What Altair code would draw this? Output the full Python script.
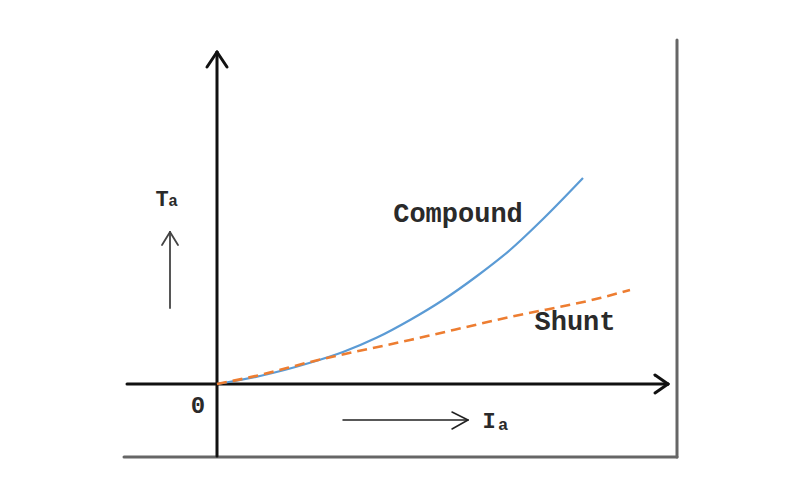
import altair as alt
import pandas as pd

# ---- data (units: Ia along x, Ta along y; origin at the axes crossing) ----
compound_x = [0, 1.075, 2.325, 3.15, 4.0, 4.825, 5.65, 6.5, 7.325, 8.15, 9.15]
compound_y = [0, 0.2, 0.53, 0.8, 1.16, 1.6, 2.1, 2.7, 3.35, 4.125, 5.15]

shunt_x = [0, 1.075, 2.325, 4.825, 7.325, 9.575, 10.325]
shunt_y = [0, 0.225, 0.55, 1.1, 1.675, 2.15, 2.35]

# axis lines and arrow heads (x, y, x2, y2)
axis_segments = [
    (0, -1.8, 0, 8.3),
    (-2.25, 0, 11.275, 0),
    (0, 8.3, -0.25, 7.925),
    (0, 8.3, 0.25, 7.925),
    (11.275, 0, 10.95, 0.225),
    (11.275, 0, 10.95, -0.225),
]
frame_segments = [
    (11.5, 8.6, 11.5, -1.825),
    (-2.325, -1.825, 11.5, -1.825),
]
ta_arrow = [
    (-1.175, 1.9, -1.175, 3.8),
    (-1.175, 3.8, -1.375, 3.475),
    (-1.175, 3.8, -0.975, 3.475),
]
ia_arrow = [
    (3.15, -0.9, 6.275, -0.9),
    (6.275, -0.9, 5.875, -0.7),
    (6.275, -0.9, 5.875, -1.125),
]

# labels: (text, x, y, size)
labels = [
    ("Compound", 6.025, 4.05, 27),
    ("Shunt", 8.95, 1.35, 27),
    ("0", -0.475, -0.725, 24),
    ("T", -1.375, 4.45, 22),
    ("a", -1.1, 4.45, 16),
    ("I", 6.8, -1.1, 22),
    ("a", 7.15, -1.15, 17),
]

XDOM = [-5.225, 14.375]
YDOM = [-2.7, 9.4]
FONT = "Liberation Mono"

xs = alt.Scale(domain=XDOM, nice=False, zero=False)
ys = alt.Scale(domain=YDOM, nice=False, zero=False)


def seg_df(segs):
    return pd.DataFrame(segs, columns=["x", "y", "x2", "y2"])


def seg_layer(segs, color, width):
    return alt.Chart(seg_df(segs)).mark_rule(color=color, strokeWidth=width, strokeCap="round").encode(
        x=alt.X("x:Q", scale=xs, axis=None),
        y=alt.Y("y:Q", scale=ys, axis=None),
        x2="x2:Q",
        y2="y2:Q",
    )


frame = seg_layer(frame_segments, "#666666", 3)
axes = seg_layer(axis_segments, "#111111", 3)
ta = seg_layer(ta_arrow, "#444444", 1.8)
ia = seg_layer(ia_arrow, "#222222", 1.5)

comp_df = pd.DataFrame({"x": compound_x, "y": compound_y})
shunt_df = pd.DataFrame({"x": shunt_x, "y": shunt_y})

compound = alt.Chart(comp_df).mark_line(color="#5b9bd5", strokeWidth=2.2, interpolate="monotone").encode(
    x=alt.X("x:Q", scale=xs, axis=None),
    y=alt.Y("y:Q", scale=ys, axis=None),
)
shunt = alt.Chart(shunt_df).mark_line(
    color="#ed7d31", strokeWidth=2.6, strokeDash=[10, 6], interpolate="monotone"
).encode(
    x=alt.X("x:Q", scale=xs, axis=None),
    y=alt.Y("y:Q", scale=ys, axis=None),
)

lab_df = pd.DataFrame(labels, columns=["text", "x", "y", "size"])
text = alt.Chart(lab_df).mark_text(
    font=FONT, fontWeight="bold", color="#2a2a2a", align="center", baseline="alphabetic"
).encode(
    x=alt.X("x:Q", scale=xs, axis=None),
    y=alt.Y("y:Q", scale=ys, axis=None),
    text="text:N",
    size=alt.Size("size:Q", scale=None, legend=None),
)

chart = (
    alt.layer(frame, axes, ta, ia, compound, shunt, text)
    .properties(width=784, height=484, padding=0, autosize=alt.AutoSizeParams(type="none"))
    .configure_view(stroke=None)
)

chart.save("out.html", embed_options={"renderer": "svg", "actions": False})
